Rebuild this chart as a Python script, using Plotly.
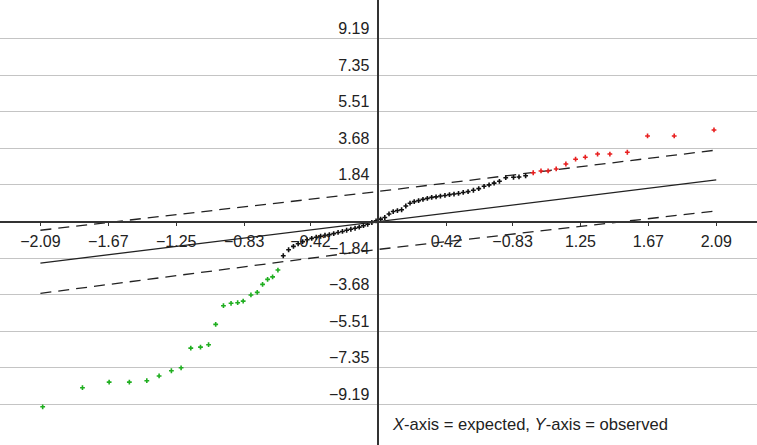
import plotly.graph_objects as go

# ---- data ----
low_x = [-2.076, -1.83, -1.665, -1.54, -1.432, -1.356, -1.28, -1.22, -1.16, -1.10, -1.05,
         -1.006, -0.958, -0.911, -0.870, -0.836, -0.788, -0.749, -0.716, -0.685, -0.654, -0.621]
low_y = [-9.31, -8.35, -8.07, -8.07, -8.00, -7.76, -7.50, -7.35, -6.36, -6.31, -6.19,
         -5.17, -4.23, -4.11, -4.08, -4.00, -3.69, -3.56, -3.16, -2.91, -2.78, -2.44]

mid_x = [-0.588, -0.555, -0.525, -0.496, -0.468, -0.440, -0.412, -0.384, -0.357, -0.330, -0.303,
         -0.276, -0.249, -0.222, -0.196, -0.170, -0.144, -0.118, -0.092, -0.066, -0.040, -0.014,
         0.014, 0.040, 0.066, 0.092, 0.118, 0.144, 0.170, 0.196, 0.222, 0.249, 0.276,
         0.303, 0.330, 0.357, 0.384, 0.412, 0.440, 0.468, 0.496, 0.525, 0.555, 0.588,
         0.621, 0.654, 0.685, 0.716, 0.749, 0.788, 0.836, 0.870, 0.911]
mid_y = [-1.72, -1.42, -1.25, -1.12, -1.01, -0.92, -0.85, -0.79, -0.74, -0.69, -0.66,
         -0.61, -0.55, -0.50, -0.44, -0.39, -0.34, -0.28, -0.21, -0.14, -0.05, 0.03,
         0.12, 0.20, 0.38, 0.50, 0.55, 0.59, 0.78, 0.92, 1.00, 1.05, 1.11,
         1.16, 1.21, 1.24, 1.28, 1.31, 1.35, 1.38, 1.41, 1.46, 1.50, 1.57,
         1.65, 1.77, 1.84, 1.93, 2.02, 2.20, 2.22, 2.24, 2.30]

high_x = [0.958, 1.006, 1.05, 1.10, 1.16, 1.22, 1.28, 1.356, 1.432, 1.54, 1.665, 1.83, 2.076]
high_y = [2.45, 2.54, 2.54, 2.64, 2.89, 3.13, 3.23, 3.39, 3.39, 3.48, 4.30, 4.30, 4.60]

ref_x = [-2.09, 2.09]
ref_y = [-2.09, 2.09]
band_x = [-2.09, 0.0, 2.09]
band_upper = [-0.44, 1.51, 3.59]
band_lower = [-3.61, -1.40, 0.53]

x_tickvals = [-2.09, -1.67, -1.25, -0.83, -0.42, 0.42, 0.83, 1.25, 1.67, 2.09]
x_ticktext = ["\u22122.09", "\u22121.67", "\u22121.25", "\u22120.83", "\u22120.42",
              "0.42", "\u22120.83", "1.25", "1.67", "2.09"]
y_tickvals = [-9.19, -7.35, -5.51, -3.68, -1.84, 1.84, 3.68, 5.51, 7.35, 9.19]
y_ticktext = ["\u22129.19", "\u22127.35", "\u22125.51", "\u22123.68", "\u22121.84",
              "1.84", "3.68", "5.51", "7.35", "9.19"]

x_range = [-2.34, 2.342]
y_range = [-11.23, 11.13]

FONT = "Arial, Liberation Sans, Helvetica, sans-serif"
TXT = "#222222"
AX = "#333333"

fig = go.Figure()

fig.add_trace(go.Scatter(x=ref_x, y=ref_y, mode="lines",
                         line=dict(color="#222222", width=1.3), hoverinfo="skip"))
fig.add_trace(go.Scatter(x=band_x, y=band_upper, mode="lines",
                         line=dict(color="#222222", width=1.3, dash="11px,7px"), hoverinfo="skip"))
fig.add_trace(go.Scatter(x=band_x, y=band_lower, mode="lines",
                         line=dict(color="#222222", width=1.3, dash="11px,7px"), hoverinfo="skip"))

mk = dict(symbol="cross", size=4, line=dict(width=0))
fig.add_trace(go.Scatter(x=low_x, y=low_y, mode="markers",
                         marker=dict(color="#1fae1f", **mk)))
fig.add_trace(go.Scatter(x=mid_x, y=mid_y, mode="markers",
                         marker=dict(color="#111111", **mk)))
fig.add_trace(go.Scatter(x=high_x, y=high_y, mode="markers",
                         marker=dict(color="#e82020", **mk)))

x0_pos = (0 - y_range[0]) / (y_range[1] - y_range[0])
y0_pos = (0 - x_range[0]) / (x_range[1] - x_range[0])

fig.update_layout(
    width=757, height=445,
    margin=dict(l=0, r=0, t=0, b=0),
    paper_bgcolor="white", plot_bgcolor="white",
    showlegend=False,
    font=dict(family=FONT, size=16, color=TXT),
    xaxis=dict(range=x_range, anchor="free", position=x0_pos,
               tickvals=x_tickvals, ticktext=x_ticktext,
               showgrid=False, zeroline=False,
               showline=True, linecolor=AX, linewidth=1.5,
               ticks="outside", ticklen=4, tickwidth=1.2, tickcolor=AX,
               ticklabelstandoff=2,
               tickfont=dict(family=FONT, size=16, color=TXT)),
    xaxis2=dict(range=x_range, overlaying="x", anchor="free", position=x0_pos,
                tickvals=x_tickvals, showticklabels=False,
                showgrid=False, zeroline=False, showline=False,
                ticks="inside", ticklen=4, tickwidth=1.2, tickcolor=AX),
    yaxis=dict(range=y_range, anchor="free", position=y0_pos,
               tickvals=y_tickvals, ticktext=y_ticktext,
               showgrid=True, gridcolor="#c4c4c4", gridwidth=1.2,
               zeroline=False,
               showline=True, linecolor=AX, linewidth=1.5,
               ticks="", ticklabelshift=-10, ticklabelstandoff=5,
               tickfont=dict(family=FONT, size=16, color=TXT)),
    annotations=[dict(text="<i>X</i>-axis = expected, <i>Y</i>-axis = observed",
                      xref="paper", yref="paper", x=390 / 757, y=1 - 424 / 445,
                      xanchor="left", yanchor="middle", showarrow=False,
                      font=dict(family=FONT, size=16.6, color=TXT))],
)

fig.write_html("out.html",
               config={"displayModeBar": False},
               post_script="document.body.style.margin='0';document.body.style.overflow='hidden';")
